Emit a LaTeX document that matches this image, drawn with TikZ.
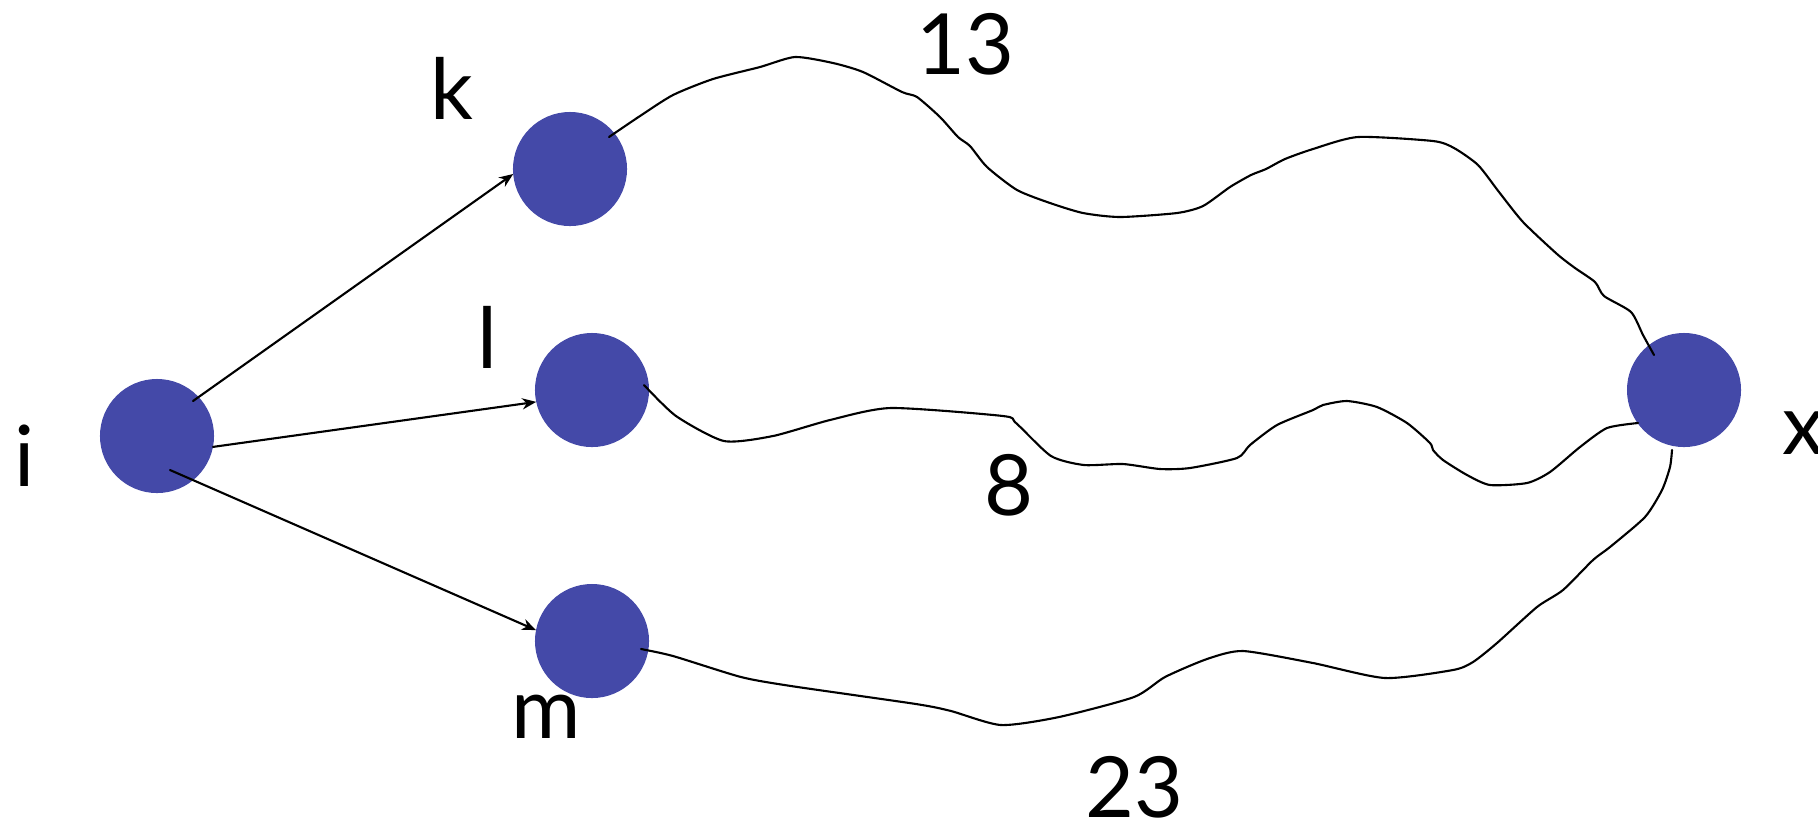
\documentclass[tikz,border=0pt]{standalone}
\usepackage{fontspec}
\setmainfont{Lato}
\usetikzlibrary{arrows.meta}
\definecolor{color4449a8}{HTML}{4449A8}

\begin{document}
\begin{tikzpicture}
    [>={Stealth[length=4pt,width=3.2pt]},  % Uniform arrow style
     x=0.01cm, y=-0.01cm,
     dot/.style={circle, fill=color4449a8, minimum size=1.14cm, inner sep=0pt, outer sep=0pt},
     lbl/.style={inner sep=0pt, font=\fontsize{24}{28}\selectfont},
     wire/.style={line width=0.6pt, line join=round, line cap=round},
    ]

\useasboundingbox (0,0) rectangle (1818,823);

\node[dot] (node_i) at (157,436) {};
\node[dot] (node_k) at (570,169) {};
\node[dot] (node_l) at (592,390) {};
\node[dot] (node_m) at (592,641) {};
\node[dot] (node_x) at (1684,390) {};

\node[lbl] (lbl_i) at (25,456) {i};
\node[lbl] (lbl_k) at (452,88) {k};
\node[lbl] (lbl_l) at (487,337) {l};
\node[lbl] (lbl_m) at (546,717) {m};
\node[lbl, anchor=west] (lbl_x) at (1782,433) {x};
\node[lbl] (cost_k) at (965,44) {13};
\node[lbl] (cost_l) at (1009,485) {8};
\node[lbl] (cost_m) at (1134,787) {23};

\draw[->, wire] ([shift={(36,-35)}]node_i.center) -- (node_k.185);
\draw[->, wire] (node_i.349) -- (node_l.192);
\draw[->, wire] ([shift={(13,34)}]node_i.center) -- (node_m.169);

% free-hand paths to x
\coordinate (k_out) at ([shift={(39,-32)}]node_k.center);
\coordinate (l_out) at ([shift={(52,-5)}]node_l.center);
\coordinate (m_out) at ([shift={(49,8)}]node_m.center);
\coordinate (x_top) at ([shift={(-30,-35)}]node_x.center);
\coordinate (x_mid) at ([shift={(-46,33)}]node_x.center);
\coordinate (x_bot) at ([shift={(-12,60)}]node_x.center);

\draw[wire] plot[smooth, tension=0.4] coordinates {(k_out) (640,116) (673,95) (713,79) (760,67) (795,57) (833,63) (863,72) (902,92) (917,97) (940,117) (958,137) (970,146) (987,167) (1017,190) (1050,203) (1083,213) (1120,217) (1177,213) (1203,206) (1230,187) (1251,175) (1266,169) (1285,159) (1313,149) (1358,137) (1433,141) (1454,148) (1478,165) (1499,192) (1523,222) (1557,254) (1575,268) (1595,282) (1604,296) (1631,312) (1643,335) (x_top)};
\draw[wire] plot[smooth, tension=0.4] coordinates {(l_out) (676,416) (724,441) (773,436) (830,420) (891,408) (1003,416) (1016,423) (1051,456) (1084,465) (1123,464) (1160,469) (1190,468) (1237,458) (1250,445) (1277,425) (1313,410) (1323,405) (1347,401) (1377,407) (1407,423) (1430,443) (1433,450) (1443,460) (1467,475) (1490,485) (1527,483) (1550,472) (1580,447) (1607,428) (x_mid)};
\draw[wire] plot[smooth, tension=0.4] coordinates {(m_out) (673,656) (741,677) (791,686) (916,704) (951,711) (1001,725) (1059,717) (1134,697) (1165,677) (1207,659) (1243,651) (1313,663) (1385,678) (1453,670) (1473,662) (1497,643) (1537,607) (1563,590) (1593,560) (1610,547) (1645,517) (1662,490) (1670,467) (x_bot)};

\end{tikzpicture}
\end{document}
